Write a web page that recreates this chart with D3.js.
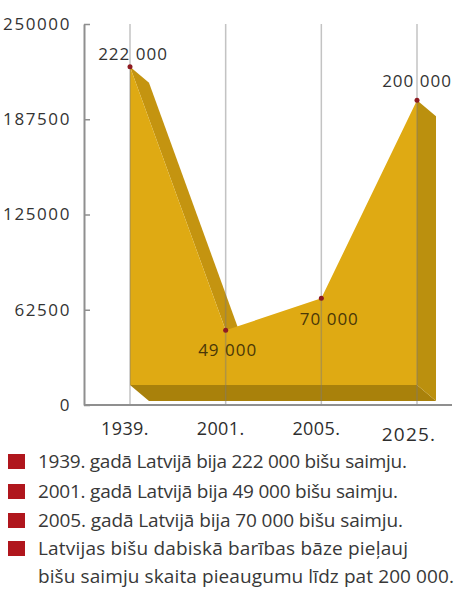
<!DOCTYPE html>
<html>
<head>
<meta charset="utf-8">
<script src="https://cdn.jsdelivr.net/npm/d3@7/dist/d3.min.js"></script>
<style>
  html, body { margin: 0; padding: 0; background: #fff; }
  svg { display: block; font-family: "Open Sans", "Noto Sans", sans-serif; }
</style>
</head>
<body>
<svg id="chart" width="455" height="601"></svg>
<script>
// Bee colonies in Latvia
const years = ["1939.", "2001.", "2005.", "2025."];
const colonies = [222000, 49000, 70000, 200000];
const valueLabels = ["222 000", "49 000", "70 000", "200 000"];
const yTicks = [0, 62500, 125000, 187500, 250000];
const notes = [
  ["1939. gadā Latvijā bija 222 000 bišu saimju."],
  ["2001. gadā Latvijā bija 49 000 bišu saimju."],
  ["2005. gadā Latvijā bija 70 000 bišu saimju."],
  ["Latvijas bišu dabiskā barības bāze pieļauj", "bišu saimju skaita pieaugumu līdz pat 200 000."]
];
// set width of each note line
const noteWidths = [[369], [360], [365], [370, 416]];

const svg = d3.select("#chart");

const x = d3.scalePoint().domain(years).range([130, 417]);
const y = d3.scaleLinear().domain([0, 250000]).range([405, 24]);

const axisX = 84;
const depth = { dx: 19, dy: 16 };
const baseY = y(0) - 20;

const pts = years.map((d, i) => [x(d), y(colonies[i])]);
const off = p => [p[0] + depth.dx, p[1] + depth.dy];
const first = pts[0], last = pts[pts.length - 1];
const bl = [first[0], baseY], br = [last[0], baseY];

const poly = d => "M" + d.map(p => p.join(",")).join("L") + "Z";

// extruded sides, drawn back to front
const g3d = svg.append("g");
g3d.append("path").attr("d", poly([bl, br, off(br), off(bl)])).attr("fill", "#a9810b");
g3d.append("path").attr("d", poly([last, br, off(br), off(last)])).attr("fill", "#bb900e");
g3d.append("path").attr("d", poly([pts[0], pts[1], off(pts[1]), off(pts[0])])).attr("fill", "#c49410");
// front face
g3d.append("path").attr("d", poly([...pts, br, bl])).attr("fill", "#dfaa13");

// vertical grid lines over the shape
svg.append("g").selectAll("line").data(years).join("line")
  .attr("x1", d => x(d)).attr("x2", d => x(d))
  .attr("y1", y(250000)).attr("y2", y(0))
  .attr("stroke", "#7a7a7a").attr("stroke-opacity", 0.45).attr("stroke-width", 1.5);

// y axis
const yAxis = d3.axisLeft(y).tickValues(yTicks).tickFormat(d3.format("d"))
  .tickSizeInner(-6).tickSizeOuter(0).tickPadding(13);
const gy = svg.append("g").attr("transform", `translate(${axisX},0)`).call(yAxis);
gy.select(".domain").attr("stroke", "#8f8f8f").attr("stroke-width", 2);
gy.selectAll(".tick line").attr("stroke", "#8f8f8f").attr("stroke-width", 1.5);
gy.selectAll(".tick text").attr("fill", "#333").attr("font-size", 17)
  .attr("font-family", "'Open Sans', sans-serif").attr("letter-spacing", "1.6px");

// x axis baseline
svg.append("line").attr("x1", axisX).attr("x2", 452).attr("y1", y(0)).attr("y2", y(0))
  .attr("stroke", "#8f8f8f").attr("stroke-width", 2);

// x labels
svg.append("g").selectAll("text").data(years).join("text")
  .attr("x", (d, i) => x(d) - (i === years.length - 1 ? 8 : 5))
  .attr("y", (d, i) => i === years.length - 1 ? 441 : 435)
  .attr("text-anchor", "middle")
  .attr("font-size", (d, i) => i === years.length - 1 ? 19 : 18)
  .attr("letter-spacing", (d, i) => i === years.length - 1 ? "1.2px" : "0.4px")
  .attr("fill", "#2e2e2e")
  .text(d => d);

// value points and labels
svg.append("g").selectAll("circle").data(pts).join("circle")
  .attr("cx", d => d[0]).attr("cy", d => d[1]).attr("r", 2.5).attr("fill", "#8e1b22");

const labelPos = [[3, -7], [2, 26], [8, 27], [0, -13]];
svg.append("g").selectAll("text").data(valueLabels).join("text")
  .attr("x", (d, i) => pts[i][0] + labelPos[i][0])
  .attr("y", (d, i) => pts[i][1] + labelPos[i][1])
  .attr("text-anchor", "middle").attr("font-size", 17).attr("letter-spacing", "1px")
  .attr("fill", (d, i) => (i === 1 || i === 2) ? "#4a3708" : "#333")
  .text(d => d);

// notes
const rowY = [468, 498, 527, 555];
const gn = svg.append("g");
notes.forEach((lines, i) => {
  gn.append("rect").attr("x", 8).attr("y", rowY[i] - 14).attr("width", 17).attr("height", 15)
    .attr("fill", "#b0161d");
  lines.forEach((t, j) => {
    gn.append("text").attr("x", 38).attr("y", rowY[i] + j * 28)
      .attr("font-size", 19).attr("fill", "#383838")
      .attr("textLength", noteWidths[i][j]).attr("lengthAdjust", "spacing")
      .text(t);
  });
});
</script>
</body>
</html>
